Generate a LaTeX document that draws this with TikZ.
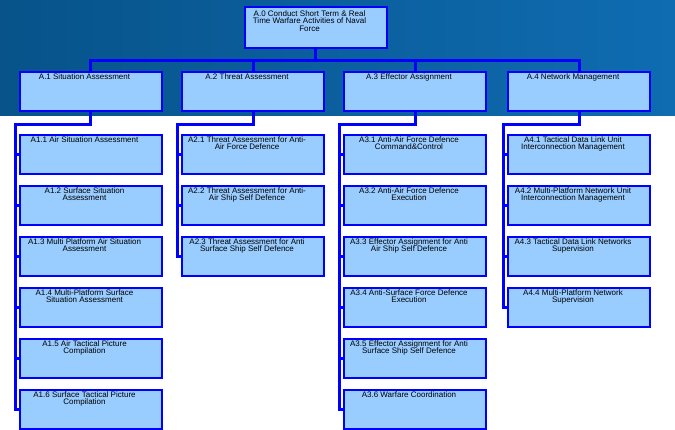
\documentclass[tikz,border=0pt]{standalone}
\usepackage{fontspec}
\setmainfont{Liberation Sans}

\definecolor{bandleft}{HTML}{07538A}
\definecolor{bandright}{HTML}{0F6CB1}
\definecolor{boxfill}{HTML}{99CCFF}
\definecolor{linkblue}{HTML}{0000FF}

% box text sits a little left of the box centre
\newcommand{\boxtxt}[1]{\parbox[t]{94pt}{\centering #1}\hspace*{9pt}}

\begin{document}
\begin{tikzpicture}[x=0.75pt, y=-0.75pt]
    % Define styles
    \tikzset{
        box/.style={
            rectangle,
            draw=linkblue,
            line width=1.5pt,
            fill=boxfill,
            minimum width=106.5pt,
            inner xsep=0pt,
            inner ysep=0pt,
            text height=5.25pt,
            text depth=24pt,
            font=\fontsize{6pt}{5.8pt}\selectfont
        },
        link/.style={
            linkblue,
            line width=2.25pt
        }
    }

    \useasboundingbox (0,0) rectangle (675,429);

    % Header band
    \shade[left color=bandleft, right color=bandright] (0,0) rectangle (675,115);

    % Top activity
    \node[box, text height=6.75pt, text depth=24pt] (a0) at (315.5,27.5)
        {\boxtxt{A.0 Conduct Short Term \& Real\\Time Warfare Activities of Naval\\Force}};

    % Second level
    \foreach \name/\x/\txt in {a1/90.5/A.1 Situation Assessment,
                               a2/253/A.2 Threat Assessment,
                               a3/415/A.3 Effector Assignment,
                               a4/579/A.4 Network Management}
        \node[box] (\name) at (\x,91.5) {\boxtxt{\txt}};

    \foreach \name in {a1,a2,a3,a4}
        \draw[link] (a0.south) -- ++(0,11) -| (\name.north);

    % A.1 branch
    \foreach \j/\txt in {1/{A1.1 Air Situation Assessment},
                         2/{A1.2 Surface Situation\\Assessment},
                         3/{A1.3 Multi Platform Air Situation\\Assessment},
                         4/{A1.4 Multi-Platform Surface\\Situation Assessment},
                         5/{A1.5 Air Tactical Picture\\Compilation},
                         6/{A1.6 Surface Tactical Picture\\Compilation}}
    {
        \node[box] (a1\j) at (90.5,{154.5+51*(\j-1)}) {\boxtxt{\txt}};
        \draw[link] (a1.south) -- ++(0,12) -| ([xshift=-2.5pt]a1\j.west) -- (a1\j.west);
    }

    % A.2 branch
    \foreach \j/\txt in {1/{A2.1 Threat Assessment for Anti-\\Air Force Defence},
                         2/{A2.2 Threat Assessment for Anti-\\Air Ship Self Defence},
                         3/{A2.3 Threat Assessment for Anti\\Surface Ship Self Defence}}
    {
        \node[box] (a2\j) at (253,{154.5+51*(\j-1)}) {\boxtxt{\txt}};
        \draw[link] (a2.south) -- ++(0,12) -| ([xshift=-2.5pt]a2\j.west) -- (a2\j.west);
    }

    % A.3 branch
    \foreach \j/\txt in {1/{A3.1 Anti-Air Force Defence\\Command\&Control},
                         2/{A3.2 Anti-Air Force Defence\\Execution},
                         3/{A3.3 Effector Assignment for Anti\\Air Ship Self Defence},
                         4/{A3.4 Anti-Surface Force Defence\\Execution},
                         5/{A3.5 Effector Assignment for Anti\\Surface Ship Self Defence},
                         6/{A3.6 Warfare Coordination}}
    {
        \node[box] (a3\j) at (415,{154.5+51*(\j-1)}) {\boxtxt{\txt}};
        \draw[link] (a3.south) -- ++(0,12) -| ([xshift=-2.5pt]a3\j.west) -- (a3\j.west);
    }

    % A.4 branch
    \foreach \j/\txt in {1/{A4.1 Tactical Data Link Unit\\Interconnection Management},
                         2/{A4.2 Multi-Platform Network Unit\\Interconnection Management},
                         3/{A4.3 Tactical Data Link Networks\\Supervision},
                         4/{A4.4 Multi-Platform Network\\Supervision}}
    {
        \node[box] (a4\j) at (579,{154.5+51*(\j-1)}) {\boxtxt{\txt}};
        \draw[link] (a4.south) -- ++(0,12) -| ([xshift=-2.5pt]a4\j.west) -- (a4\j.west);
    }

\end{tikzpicture}
\end{document}
